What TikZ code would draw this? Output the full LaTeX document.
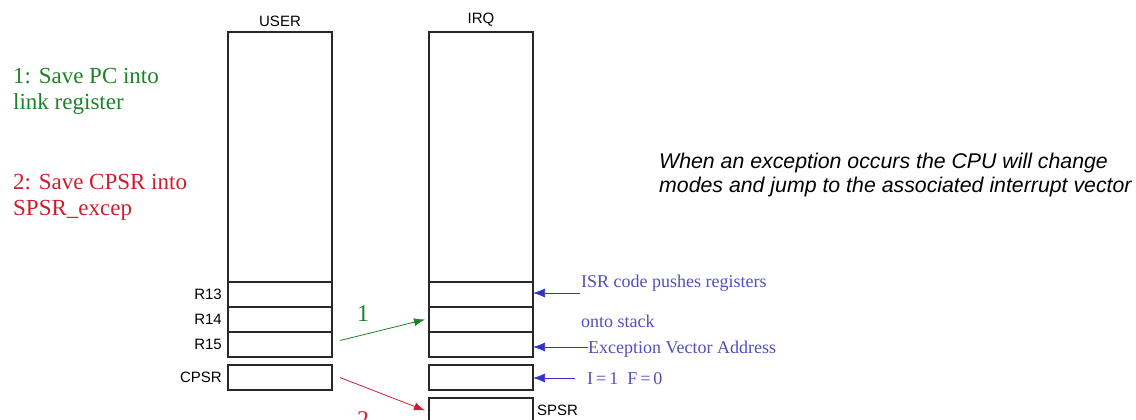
\documentclass[tikz,border=0pt]{standalone}
\usepackage{fontspec}
\setmainfont{Liberation Serif}
\newfontfamily\arialfont{Liberation Sans}
\usetikzlibrary{arrows.meta, positioning}
\definecolor{RegGray}{RGB}{40,40,40}
\definecolor{StepGreen}{RGB}{30,130,40}
\definecolor{StepRed}{RGB}{205,30,45}
\definecolor{NoteBlue}{RGB}{80,80,185}
\definecolor{ArrowBlue}{RGB}{50,50,205}

\begin{document}
\begin{tikzpicture}[x=1pt, y=-1pt,
    reg/.style={draw=RegGray, line width=1.1pt, minimum width=104pt, minimum height=25pt, inner sep=0pt, outer sep=0pt},
    stack/.style={reg, minimum height=250pt},
    regname/.style={font=\arialfont\fontsize{15}{15}\selectfont, inner sep=0pt},
    bluenote/.style={font=\fontsize{18}{18}\selectfont, text=NoteBlue, inner sep=0pt, anchor=base west},
    bluearrow/.style={draw=ArrowBlue, line width=0.7pt, -{Latex[length=12pt, width=9pt]}},
    stepnote/.style={font=\fontsize{23}{26}\selectfont, align=left, inner sep=0pt, anchor=north west}]
    \useasboundingbox (0,0) rectangle (1136,420);

    % --- USER mode registers ---
    \node[stack] (ustack) at (280,157) {};
    \node[reg, below=0pt of ustack] (ur13) {};
    \node[reg, below=0pt of ur13] (ur14) {};
    \node[reg, below=0pt of ur14] (ur15) {};
    \node[reg, below=8pt of ur15] (ucpsr) {};
    \node[regname, above=5pt of ustack] (userlbl) {USER};
    \node[regname, left=6pt of ur13] (r13lbl) {R13};
    \node[regname, left=6pt of ur14] (r14lbl) {R14};
    \node[regname, left=6pt of ur15] (r15lbl) {R15};
    \node[regname, left=6pt of ucpsr] (cpsrlbl) {CPSR};

    % --- IRQ mode registers ---
    \node[stack] (istack) at (481,157) {};
    \node[reg, below=0pt of istack] (ir13) {};
    \node[reg, below=0pt of ir13] (ir14) {};
    \node[reg, below=0pt of ir14] (ir15) {};
    \node[reg, below=8pt of ir15] (icpsr) {};
    \node[reg, below=8pt of icpsr] (ispsr) {};
    \node[regname, above=5pt of istack] (irqlbl) {IRQ};
    \node[regname, right=4pt of ispsr] (spsrlbl) {SPSR};

    % --- Steps 1 and 2 ---
    \node[stepnote, text=StepGreen] (step1) at (13,68.3) {1: Save PC into\\link register};
    \node[stepnote, text=StepRed] (step2) at (13,174.3) {2: Save CPSR into\\SPSR\_excep};
    \draw[StepGreen, line width=0.8pt, -{Latex[length=11pt, width=8pt]}]
      ([xshift=8pt, yshift=4pt]ur15.east) -- ([xshift=-4pt]ir14.west);
    \node[font=\fontsize{24}{24}\selectfont, text=StepGreen] (one) at (363,314) {1};
    \draw[StepRed, line width=0.8pt, -{Latex[length=11pt, width=8pt]}]
      ([xshift=8pt]ucpsr.east) -- ([xshift=-4pt]ispsr.west);
    \node[font=\fontsize{24}{24}\selectfont, text=StepRed] (two) at (363,420) {2};

    % --- IRQ notes ---
    \node[bluenote] (isrnote) at (581,287) {ISR code pushes registers};
    \node[bluenote] (stacknote) at (581,327) {onto stack};
    \node[bluenote] (vecnote) at (588,353) {Exception Vector Address};
    \node[bluenote] (flagnote) at (587,384) {I\,=\,1\ \ F\,=\,0};
    \coordinate (isrtail) at (580,293);
    \coordinate (vectail) at (588,347);
    \coordinate (flagtail) at (575,378);
    \draw[bluearrow] (isrtail) -- (isrtail -| ir13.east);
    \draw[bluearrow] (vectail) -- (vectail -| ir15.east);
    \draw[bluearrow] (flagtail) -- (flagtail -| icpsr.east);

    % --- Caption ---
    \node[font=\arialfont\itshape\fontsize{21.3}{24}\selectfont, align=left, inner sep=0pt, anchor=north west]
      (caption) at (659,152.5) {When an exception occurs the CPU will change\\modes and jump to the associated interrupt vector};
\end{tikzpicture}
\end{document}
